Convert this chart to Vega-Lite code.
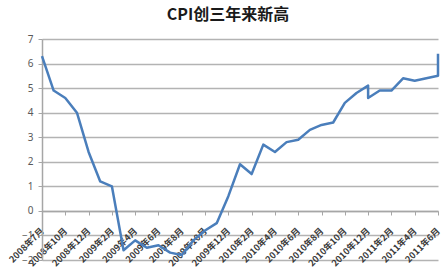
{
  "$schema": "https://vega.github.io/schema/vega-lite/v6.json",
  "width": 396,
  "height": 221,
  "autosize": {"type": "none"},
  "padding": {"left": 42, "top": 39, "right": 5, "bottom": 17},
  "background": "white",
  "title": {
    "text": "CPI创三年来新高",
    "font": "Noto Sans CJK SC",
    "fontSize": 16,
    "fontWeight": "bold",
    "color": "#1a1a1a",
    "anchor": "middle",
    "dx": -12,
    "offset": 11
  },
  "data": {
    "values": [
      {"月份": "2008年7月", "CPI": 6.3},
      {"月份": "2008年9月", "CPI": 4.9},
      {"月份": "2008年10月", "CPI": 4.6},
      {"月份": "2008年11月", "CPI": 4.0},
      {"月份": "2008年12月", "CPI": 2.4},
      {"月份": "2009年1月", "CPI": 1.2},
      {"月份": "2009年2月", "CPI": 1.0},
      {"月份": "2009年3月", "CPI": -1.6},
      {"月份": "2009年4月", "CPI": -1.2},
      {"月份": "2009年5月", "CPI": -1.5},
      {"月份": "2009年6月", "CPI": -1.4},
      {"月份": "2009年7月", "CPI": -1.7},
      {"月份": "2009年8月", "CPI": -1.8},
      {"月份": "2009年9月", "CPI": -1.2},
      {"月份": "2009年10月", "CPI": -0.8},
      {"月份": "2009年11月", "CPI": -0.5},
      {"月份": "2009年12月", "CPI": 0.6},
      {"月份": "2010年1月", "CPI": 1.9},
      {"月份": "2010年2月", "CPI": 1.5},
      {"月份": "2010年3月", "CPI": 2.7},
      {"月份": "2010年4月", "CPI": 2.4},
      {"月份": "2010年5月", "CPI": 2.8},
      {"月份": "2010年6月", "CPI": 2.9},
      {"月份": "2010年7月", "CPI": 3.3},
      {"月份": "2010年8月", "CPI": 3.5},
      {"月份": "2010年9月", "CPI": 3.6},
      {"月份": "2010年10月", "CPI": 4.4},
      {"月份": "2010年11月", "CPI": 4.8},
      {"月份": "2010年12月", "CPI": 5.1},
      {"月份": "2010年12月", "CPI": 4.6},
      {"月份": "2011年1月", "CPI": 4.9},
      {"月份": "2011年2月", "CPI": 4.9},
      {"月份": "2011年3月", "CPI": 5.4},
      {"月份": "2011年4月", "CPI": 5.3},
      {"月份": "2011年6月", "CPI": 5.5},
      {"月份": "2011年6月", "CPI": 6.4}
    ]
  },
  "mark": {"type": "line", "color": "#4a7ebb", "strokeWidth": 2.5, "strokeJoin": "round"},
  "encoding": {
    "x": {
      "field": "月份",
      "type": "ordinal",
      "scale": {
        "type": "point",
        "padding": 0,
        "domain": [
          "2008年7月", "2008年9月", "2008年10月", "2008年11月", "2008年12月",
          "2009年1月", "2009年2月", "2009年3月", "2009年4月", "2009年5月", "2009年6月",
          "2009年7月", "2009年8月", "2009年9月", "2009年10月", "2009年11月", "2009年12月",
          "2010年1月", "2010年2月", "2010年3月", "2010年4月", "2010年5月", "2010年6月",
          "2010年7月", "2010年8月", "2010年9月", "2010年10月", "2010年11月", "2010年12月",
          "2011年1月", "2011年2月", "2011年3月", "2011年4月", "2011年5月", "2011年6月"
        ]
      },
      "axis": {
        "title": null,
        "values": [
          "2008年7月", "2008年10月", "2008年12月",
          "2009年2月", "2009年4月", "2009年6月", "2009年8月", "2009年10月", "2009年12月",
          "2010年2月", "2010年4月", "2010年6月", "2010年8月", "2010年10月", "2010年12月",
          "2011年2月", "2011年4月", "2011年6月"
        ],
        "offset": -49,
        "grid": false,
        "labelAngle": -45,
        "labelAlign": "right",
        "labelBaseline": "middle",
        "labelFont": "Noto Sans CJK SC",
        "labelFontSize": 9,
        "labelFontWeight": "bold",
        "labelColor": "#3a3a3a",
        "labelPadding": 14,
        "labelOverlap": false,
        "tickSize": 4,
        "tickColor": "#a6a6a6",
        "domainColor": "#a6a6a6",
        "domainWidth": 1.5
      }
    },
    "y": {
      "field": "CPI",
      "type": "quantitative",
      "scale": {"domain": [-2, 7], "nice": false, "zero": false},
      "axis": {
        "title": null,
        "values": [-2, -1, 0, 1, 2, 3, 4, 5, 6, 7],
        "grid": true,
        "gridColor": "#b3b3b3",
        "gridWidth": 1.5,
        "domainColor": "#a6a6a6",
        "domainWidth": 1.5,
        "tickSize": 4,
        "tickColor": "#a6a6a6",
        "labelFont": "Noto Sans",
        "labelFontSize": 10,
        "labelColor": "#595959",
        "labelPadding": 5
      }
    },
    "order": {"value": null}
  },
  "config": {"view": {"stroke": null}}
}
